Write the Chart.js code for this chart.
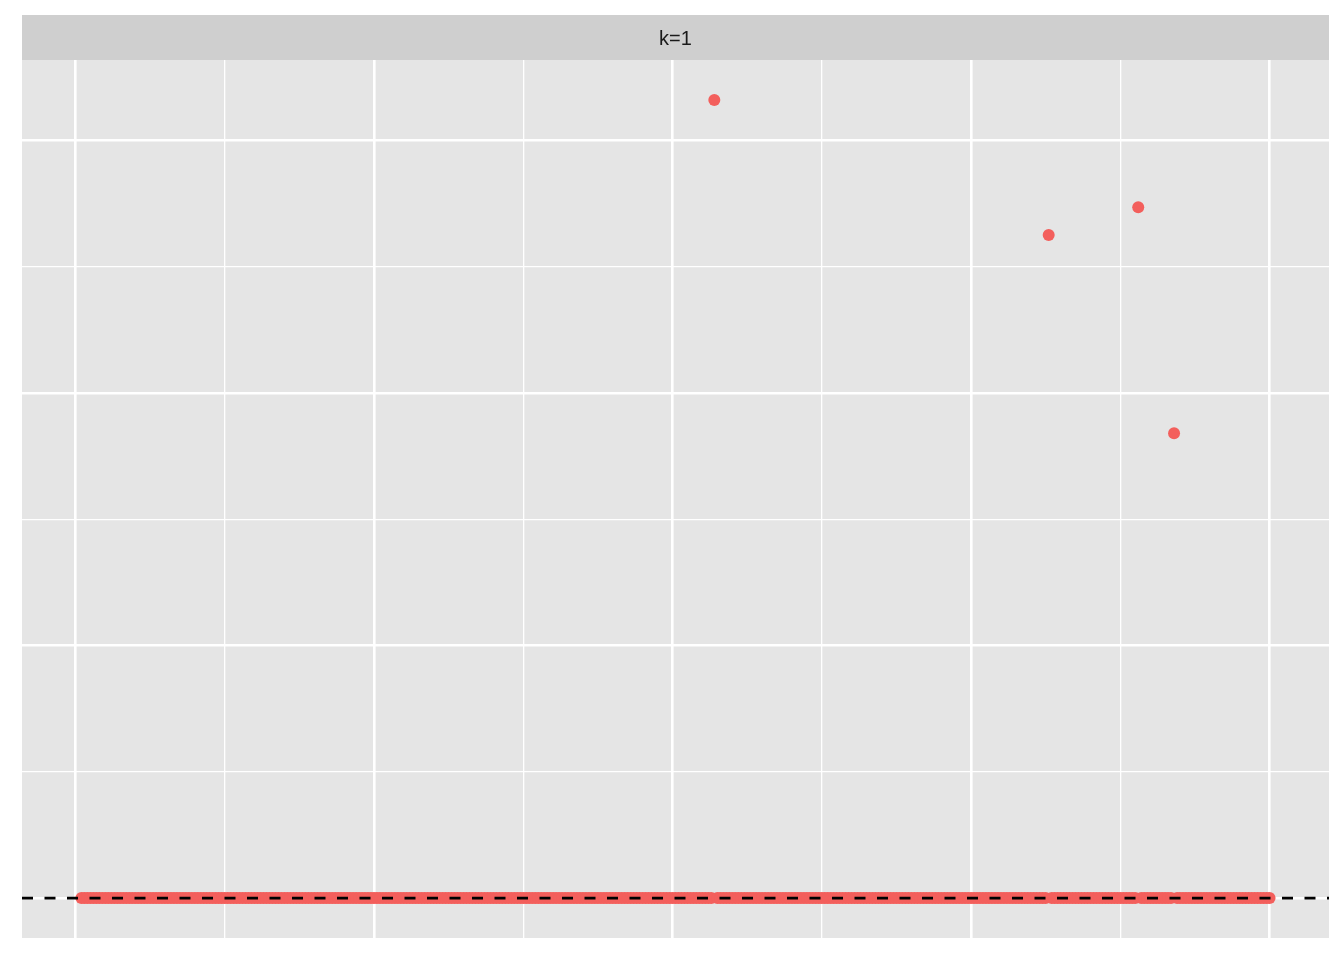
<!DOCTYPE html>
<html>
<head>
<meta charset="utf-8">
<script src="https://cdn.jsdelivr.net/npm/chart.js@4"></script>
<style>
  body { margin: 0; background: #ffffff; }
  canvas { display: block; }
</style>
</head>
<body>
<canvas id="chart" width="1344" height="960"></canvas>
<script>
// Facet label
const stripLabel = "k=1";

// One value per observation, index 2..400 (outliers at 214, 326, 356, 368)
const values = [
  0,0,0,0,0,0,0,0,0,0, 0,0,0,0,0,0,0,0,0,0, 0,0,0,0,0,0,0,0,0,0, 0,0,0,0,0,0,0,0,0,0,
  0,0,0,0,0,0,0,0,0,0, 0,0,0,0,0,0,0,0,0,0, 0,0,0,0,0,0,0,0,0,0, 0,0,0,0,0,0,0,0,0,0,
  0,0,0,0,0,0,0,0,0,0, 0,0,0,0,0,0,0,0,0,0, 0,0,0,0,0,0,0,0,0,0, 0,0,0,0,0,0,0,0,0,0,
  0,0,0,0,0,0,0,0,0,0, 0,0,0,0,0,0,0,0,0,0, 0,0,0,0,0,0,0,0,0,0, 0,0,0,0,0,0,0,0,0,0,
  0,0,0,0,0,0,0,0,0,0, 0,0,0,0,0,0,0,0,0,0, 0,0,0,0,0,0,0,0,0,0, 0,0,0,0,0,0,0,0,0,0,
  0,0,0,0,0,0,0,0,0,0, 0,0,6.32,0,0,0,0,0,0,0, 0,0,0,0,0,0,0,0,0,0, 0,0,0,0,0,0,0,0,0,0,
  0,0,0,0,0,0,0,0,0,0, 0,0,0,0,0,0,0,0,0,0, 0,0,0,0,0,0,0,0,0,0, 0,0,0,0,0,0,0,0,0,0,
  0,0,0,0,0,0,0,0,0,0, 0,0,0,0,0,0,0,0,0,0, 0,0,0,0,0,0,0,0,0,0, 0,0,0,0,0,0,0,0,0,0,
  0,0,0,0,5.25,0,0,0,0,0, 0,0,0,0,0,0,0,0,0,0, 0,0,0,0,0,0,0,0,0,0, 0,0,0,0,5.47,0,0,0,0,0,
  0,0,0,0,0,0,3.68,0,0,0, 0,0,0,0,0,0,0,0,0,0, 0,0,0,0,0,0,0,0,0,0, 0,0,0,0,0,0,0,0,0
];
const firstIndex = 2;

// Reference line
const refY = 0;

// Axis ranges and grid breaks (no tick labels are shown)
const xRange = [-17.9, 419.9];
const yRange = [-0.316, 6.636];
const xTicks = [0, 50, 100, 150, 200, 250, 300, 350, 400];
const xMajor = [0, 100, 200, 300, 400];
const yTicks = [0, 1, 2, 3, 4, 5, 6];
const yMajor = [0, 2, 4, 6];

const pointColor = "#F35F5C";
const panelColor = "#E5E5E5";
const stripColor = "#CFCFCF";

const points = values.map((v, i) => ({ x: i + firstIndex, y: v }));

// panel background + facet strip
const panelPlugin = {
  id: "panel",
  beforeDraw(chart) {
    const { ctx, chartArea } = chart;
    ctx.save();
    ctx.fillStyle = panelColor;
    ctx.fillRect(chartArea.left, chartArea.top, chartArea.right - chartArea.left, chartArea.bottom - chartArea.top);
    ctx.fillStyle = stripColor;
    ctx.fillRect(chartArea.left, 15, chartArea.right - chartArea.left, chartArea.top - 15);
    ctx.fillStyle = "#1A1A1A";
    ctx.font = '20px "Liberation Sans", Arial, sans-serif';
    ctx.textAlign = "center";
    ctx.textBaseline = "middle";
    ctx.fillText(stripLabel, (chartArea.left + chartArea.right) / 2, (15 + chartArea.top) / 2 + 1.5);
    ctx.restore();
  },
};

function gridWidth(major) {
  return (c) => (major.includes(c.tick.value) ? 2.6 : 1.3);
}

new Chart(document.getElementById("chart"), {
  type: "scatter",
  data: {
    datasets: [
      {
        type: "line",
        data: [
          { x: xRange[0], y: refY },
          { x: xRange[1], y: refY },
        ],
        borderColor: "#000000",
        borderWidth: 2.8,
        borderDash: [11, 11.5],
        pointRadius: 0,
        fill: false,
        order: 0,
      },
      {
        data: points,
        backgroundColor: pointColor,
        borderWidth: 0,
        pointRadius: 6,
        pointHoverRadius: 6,
        order: 1,
      },
    ],
  },
  options: {
    responsive: false,
    animation: false,
    events: [],
    layout: { padding: { left: 22, top: 60, right: 15, bottom: 22 } },
    plugins: {
      legend: { display: false },
      tooltip: { enabled: false },
    },
    scales: {
      x: {
        type: "linear",
        min: xRange[0],
        max: xRange[1],
        afterBuildTicks: (s) => { s.ticks = xTicks.map((v) => ({ value: v })); },
        ticks: { display: false },
        border: { display: false },
        grid: { color: "#FFFFFF", lineWidth: gridWidth(xMajor), drawTicks: false },
      },
      y: {
        type: "linear",
        min: yRange[0],
        max: yRange[1],
        afterBuildTicks: (s) => { s.ticks = yTicks.map((v) => ({ value: v })); },
        ticks: { display: false },
        border: { display: false },
        grid: { color: "#FFFFFF", lineWidth: gridWidth(yMajor), drawTicks: false },
      },
    },
  },
  plugins: [panelPlugin],
});
</script>
</body>
</html>
